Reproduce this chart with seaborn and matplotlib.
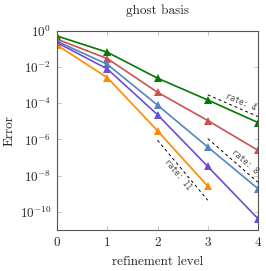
import numpy as np
import pandas as pd
import seaborn as sns
import matplotlib.pyplot as plt

levels = [0, 1, 2, 3, 4]
err_green = [0.51, 0.065, 2.4e-3, 1.5e-4, 8.5e-6]
err_red = [0.34, 0.029, 4.0e-4, 1.1e-5, 2.5e-7]
err_blue = [0.26, 0.014, 7.8e-5, 3.8e-7, 1.9e-9]
err_purple = [0.22, 7.8e-3, 2.3e-5, 3.2e-8, 4.2e-11]
err_orange = [0.16, 2.6e-3, 3.0e-6, 2.6e-9]

series_names = ["green", "red", "blue", "purple", "orange"]
series_colors = ["#007a00", "#c9524f", "#4f86c4", "#6a4fd2", "#ff8a00"]

# reference slopes: rate, start level, start error, label position along line
rates = [4, 8, 11]
rate_x0 = [3.0, 3.0, 2.0]
rate_y0 = [2.9e-4, 1.1e-6, 9.0e-7]
rate_frac = [0.6, 0.65, 0.5]
rate_side = [1, 1, -1]

rows = []
for name, errs in zip(series_names, [err_green, err_red, err_blue, err_purple, err_orange]):
    for lvl, e in zip(levels, errs):
        rows.append({"level": lvl, "error": e, "series": name})
df = pd.DataFrame(rows)

sns.set_style("ticks")
plt.rcParams["font.family"] = ["cmr10", "DejaVu Serif"]
plt.rcParams["mathtext.fontset"] = "cm"
plt.rcParams["axes.formatter.use_mathtext"] = True
plt.rcParams["axes.unicode_minus"] = False

fig = plt.figure(figsize=(2.66, 2.71), dpi=100)
ax = fig.add_axes([0.2143, 0.1513, 0.7557, 0.7354])

sns.lineplot(data=df, x="level", y="error", hue="series", hue_order=series_names,
             palette=series_colors, marker="^", markersize=5.5, markeredgewidth=0,
             linewidth=1.2, legend=False, ax=ax)

ax.set_yscale("log")
ax.set_xlim(0, 4)
ax.set_ylim(1e-11, 1)
ax.set_xticks(levels)
ax.set_yticks([1e0, 1e-2, 1e-4, 1e-6, 1e-8, 1e-10])
ax.yaxis.set_minor_locator(plt.NullLocator())
ax.tick_params(direction="in", length=3, width=0.5, color="#aaaaaa",
               top=True, right=True, labelsize=9.5, pad=4)
for sp in ax.spines.values():
    sp.set_color("#555555")
    sp.set_linewidth(0.8)

ax.set_title("ghost basis", fontsize=9.5, pad=12)
ax.set_xlabel("refinement level", fontsize=9.5, labelpad=5)
ax.set_ylabel("Error", fontsize=9.5, labelpad=3)

fig.canvas.draw()
for r, x0, y0, frac, side in zip(rates, rate_x0, rate_y0, rate_frac, rate_side):
    x1 = x0 + 1
    y1 = y0 / 2.0 ** r
    ax.plot([x0, x1], [y0, y1], color="black", linestyle=(0, (3, 3)), linewidth=0.7)
    p0 = ax.transData.transform((x0, y0))
    p1 = ax.transData.transform((x1, y1))
    d = p1 - p0
    ang = np.degrees(np.arctan2(d[1], d[0]))
    n = np.array([-d[1], d[0]]) / np.hypot(*d) * side
    xm = x0 + frac
    ym = y0 * (y1 / y0) ** frac
    off = n * 6.5 * 0.72
    ax.annotate(f"rate: {r}", (xm, ym), xytext=(off[0], off[1]), textcoords="offset points",
                rotation=ang, ha="center", va="center", rotation_mode="anchor",
                fontsize=5.5, family="DejaVu Sans Mono", color="#444444")

fig.savefig("out.png", dpi=100)
